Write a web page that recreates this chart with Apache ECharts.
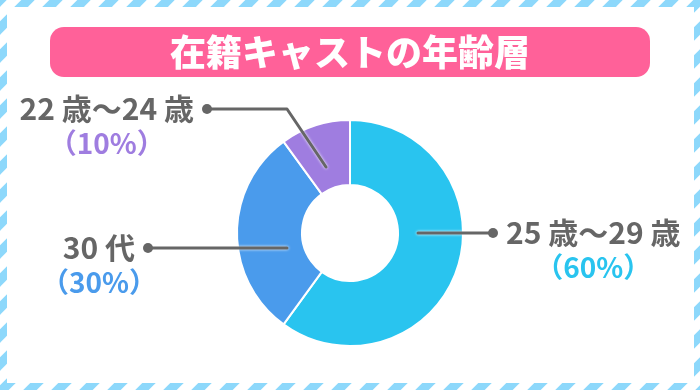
<!DOCTYPE html>
<html><head><meta charset="utf-8">
<script src="https://cdn.jsdelivr.net/npm/echarts@6/dist/echarts.min.js"></script>
<style>html,body{margin:0;padding:0;background:#fff}#c{width:700px;height:390px}</style>
</head><body><div id="c"></div>
<script>
// ---- data ----
const titleText = '在籍キャストの年齢層';
const categories = ['25 歳〜29 歳', '30 代', '22 歳〜24 歳'];
const values = [60, 30, 10];

// ---- style / layout ----
const colors = ['#29c4ef', '#4a9bec', '#9f7de0'];
const FONT = '"Noto Sans CJK JP", "Noto Sans", sans-serif';
const NAME_FONT_SIZE = 30, PCT_FONT_SIZE = 28;
const CENTER = [350, 233];
const RADIUS = [48, 113];
const LH = 34, DOT = 10, GAP = 8;
// label guide geometry relative to the pie centre: start (inside ring), elbow, dot
const guides = [
  {side: 'right', pts: [[68, 0], [105, 0], [143, 0]]},
  {side: 'left',  pts: [[-63, 15], [-130, 15], [-202, 15]]},
  {side: 'left',  pts: [[-24, -66], [-63, -124], [-143, -124]]}
];

// text measuring (same as canvas renderer)
const mctx = document.createElement('canvas').getContext('2d');
function textWidth(t, size) { mctx.font = 'bold ' + size + 'px ' + FONT; return mctx.measureText(t).width; }

// striped frame pattern
const pc = document.createElement('canvas');
pc.width = 28; pc.height = 28;
const g = pc.getContext('2d');
g.fillStyle = '#fff'; g.fillRect(0, 0, 28, 28);
g.strokeStyle = '#8dd8fb'; g.lineWidth = 9.5;
for (const o of [-28, 0, 28]) { g.beginPath(); g.moveTo(o - 6, 34); g.lineTo(o + 34, -6); g.stroke(); }

const rich = {
  n: {fontSize: NAME_FONT_SIZE, fontWeight: 'bold', color: '#666', fontFamily: FONT, lineHeight: LH},
  d: {width: DOT, height: DOT, backgroundColor: '#666', borderRadius: DOT / 2, lineHeight: LH},
  g: {width: GAP, lineHeight: LH},
  s: {width: GAP + DOT, lineHeight: LH}
};
colors.forEach((c, i) => {
  rich['p' + i] = {fontSize: PCT_FONT_SIZE, fontWeight: 'bold', color: c, fontFamily: FONT, lineHeight: LH};
});

const chart = echarts.init(document.getElementById('c'), null, {renderer: 'canvas'});
chart.setOption({
  animation: false,
  backgroundColor: {image: pc, repeat: 'repeat'},
  graphic: [
    {type: 'rect', z: -10, shape: {x: 7, y: 7, width: 687, height: 376}, style: {fill: '#fff'}},
    {type: 'rect', z: -5, shape: {x: 50, y: 27, width: 600, height: 50, r: 14}, style: {fill: '#ff6199'}},
    {type: 'text', z: 0, x: 350, y: 52, style: {
      text: titleText, fill: '#fff', font: '900 36px ' + FONT, align: 'center', verticalAlign: 'middle'}}
  ],
  series: [{
    // ring
    type: 'pie',
    z: 2,
    center: CENTER,
    radius: RADIUS,
    startAngle: 90,
    clockwise: true,
    silent: true,
    itemStyle: {borderColor: '#fff', borderWidth: 2},
    data: categories.map((n, i) => ({name: n, value: values[i], itemStyle: {color: colors[i]}})),
    label: {show: false},
    labelLine: {show: false}
  }, {
    // labels + guide lines, drawn above the ring
    type: 'pie',
    z: 3,
    center: CENTER,
    radius: RADIUS,
    startAngle: 90,
    clockwise: true,
    silent: true,
    itemStyle: {color: 'rgba(0,0,0,0)', borderWidth: 0},
    data: categories.map((n, i) => ({name: n, value: values[i]})),
    label: {
      show: true,
      position: 'outside',
      overflow: 'none',
      bleedMargin: 0,
      formatter: function (p) {
        const i = p.dataIndex;
        const pct = '{p' + i + '|（' + values[i] + '%）}';
        if (guides[i].side === 'right') {
          return '{d| }{g| }{n|' + p.name + '}\n{s| }' + pct;
        }
        return '{n|' + p.name + '}{g| }{d| }\n' + pct + '{s| }';
      },
      rich: rich
    },
    labelLine: {show: true, length: 0, length2: 0,
      lineStyle: {color: '#666', width: 3, cap: 'round', join: 'round',
        shadowColor: 'rgba(255,255,255,1)', shadowBlur: 3}},
    labelLayout: function (params) {
      const i = params.dataIndex;
      const gd = guides[i];
      const pts = gd.pts.map(q => [CENTER[0] + q[0], CENTER[1] + q[1]]);
      const dot = pts[pts.length - 1];
      const w1 = textWidth(categories[i], NAME_FONT_SIZE) + GAP + DOT;
      const cx = gd.side === 'left' ? dot[0] + DOT / 2 - w1 / 2 : dot[0] - DOT / 2 + w1 / 2;
      return {x: cx, y: dot[1] - LH / 2, align: 'center', verticalAlign: 'top', labelLinePoints: pts};
    }
  }]
});
</script></body></html>
